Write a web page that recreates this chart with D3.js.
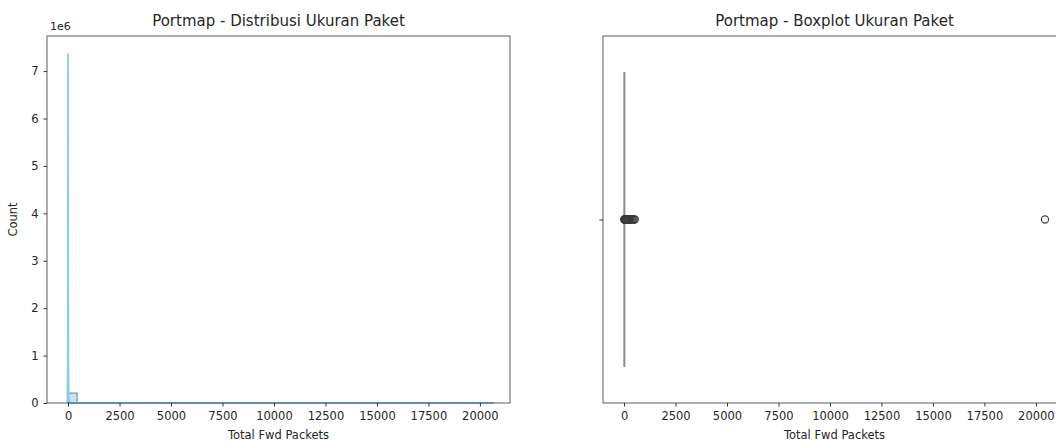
<!DOCTYPE html>
<html>
<head>
<meta charset="utf-8">
<script src="https://cdn.jsdelivr.net/npm/d3@7"></script>
<style>
body{margin:0;background:#fff;}
svg text{font-family:"DejaVu Sans",sans-serif;fill:#262626;}
</style>
</head>
<body>
<div class="box"></div>
<script>
// histogram bins (start of each bin), bin width and counts
const binW=440;
const binCounts=[210000,1200,300,150,80,40,20,10,5,3,2,1,1,0,0,0,0,0,0,0,0,0,0,0,0,0,0,0,0,0,0,0,0,0,0,0,0,0,0,0,0,0,0,0,0,0,1];
// kde curve (scaled to counts)
const kdeX=[-60,-30,-15,-5,0,3,8,15,30,60,120,250,500,1000,20440];
const kdeY=[0,40000,900000,5200000,7370000,6900000,3600000,900000,150000,40000,10000,3000,500,50,0];
// boxplot stats
const boxStats={q1:2,med:2,q3:4,lo:1,hi:7};
const outliers=[10,20,35,50,70,90,110,140,170,200,240,280,320,370,420,470,520,20440];
const xTicks=[0,2500,5000,7500,10000,12500,15000,17500,20000];
const yTicks=[0,1,2,3,4,5,6,7];

const W=1056,H=443;
const svg=d3.select('.box').append('svg').attr('width',W).attr('height',H);

const xDom=[-1022,21462];
const m1={left:47,top:36,w:463,h:367};
const m2={left:603,top:36,w:463,h:367};

// ---------- left : histogram ----------
const g1=svg.append('g').attr('transform',`translate(${m1.left},${m1.top})`);
const x1=d3.scaleLinear().domain(xDom).range([0,m1.w]);
const y1=d3.scaleLinear().domain([0,7.74e6]).range([m1.h,0]);

g1.selectAll('rect.bin').data(binCounts).enter().append('rect')
  .attr('class','bin')
  .attr('x',(d,i)=>x1(i*binW))
  .attr('width',x1(binW)-x1(0))
  .attr('y',d=>y1(d))
  .attr('height',d=>m1.h-y1(d))
  .attr('fill','rgba(135,206,235,0.5)')
  .attr('stroke','#2f4f5a')
  .attr('stroke-width',0.7);

const kdeData=kdeX.map((v,i)=>[v,kdeY[i]]);
g1.append('path').datum(kdeData)
  .attr('d',d3.line().x(d=>x1(d[0])).y(d=>y1(d[1])))
  .attr('fill','none').attr('stroke','#87ceeb').attr('stroke-width',1.8);

g1.append('g').attr('transform',`translate(0,${m1.h})`)
  .call(d3.axisBottom(x1).tickValues(xTicks).tickSize(3.5).tickPadding(5).tickFormat(d3.format('d')));
g1.append('g')
  .call(d3.axisLeft(y1).tickValues(yTicks.map(v=>v*1e6)).tickSize(3.5).tickPadding(5).tickFormat(d=>d/1e6));
g1.append('rect').attr('width',m1.w).attr('height',m1.h).attr('fill','none').attr('stroke','#333').attr('stroke-width',0.8);
g1.append('text').attr('x',3).attr('y',-6).attr('font-size',11).text('1e6');
g1.append('text').attr('x',m1.w/2).attr('y',-10).attr('text-anchor','middle').attr('font-size',15).text('Portmap - Distribusi Ukuran Paket');
g1.append('text').attr('x',m1.w/2).attr('y',m1.h+36).attr('text-anchor','middle').attr('font-size',11.5).text('Total Fwd Packets');
g1.append('text').attr('transform',`translate(-30,${m1.h/2}) rotate(-90)`).attr('text-anchor','middle').attr('font-size',11.5).text('Count');

// ---------- right : boxplot ----------
const g2=svg.append('g').attr('transform',`translate(${m2.left},${m2.top})`);
const x2=d3.scaleLinear().domain(xDom).range([0,m2.w]);
const y2=d3.scaleLinear().domain([0.5,-0.5]).range([m2.h,0]);
const bTop=y2(-0.4),bBot=y2(0.4),cy=y2(0);

g2.append('line').attr('x1',x2(boxStats.lo)).attr('x2',x2(boxStats.hi)).attr('y1',cy).attr('y2',cy).attr('stroke','#555').attr('stroke-width',1.5);
g2.append('rect').attr('x',x2(boxStats.q1)).attr('width',Math.max(0.5,x2(boxStats.q3)-x2(boxStats.q1)))
  .attr('y',bTop).attr('height',bBot-bTop).attr('fill','#888').attr('stroke','#8a8a8a').attr('stroke-width',1.5);
g2.selectAll('circle').data(outliers).enter().append('circle')
  .attr('cx',d=>x2(d)).attr('cy',cy).attr('r',3.6)
  .attr('fill','none').attr('stroke','#3a3a3a').attr('stroke-width',1.1);

g2.append('g').attr('transform',`translate(0,${m2.h})`)
  .call(d3.axisBottom(x2).tickValues(xTicks).tickSize(3.5).tickPadding(5).tickFormat(d3.format('d')));
g2.append('g').call(d3.axisLeft(y2).tickValues([0]).tickSize(3.5).tickFormat(''));
g2.append('rect').attr('width',m2.w).attr('height',m2.h).attr('fill','none').attr('stroke','#333').attr('stroke-width',0.8);
g2.append('text').attr('x',m2.w/2).attr('y',-10).attr('text-anchor','middle').attr('font-size',15).text('Portmap - Boxplot Ukuran Paket');
g2.append('text').attr('x',m2.w/2).attr('y',m2.h+36).attr('text-anchor','middle').attr('font-size',11.5).text('Total Fwd Packets');

svg.selectAll('.domain').remove();
svg.selectAll('.tick line').attr('stroke','#333');
svg.selectAll('.tick text').attr('font-size',11.5).attr('fill','#262626').attr('font-family','DejaVu Sans');
</script>
</body>
</html>
